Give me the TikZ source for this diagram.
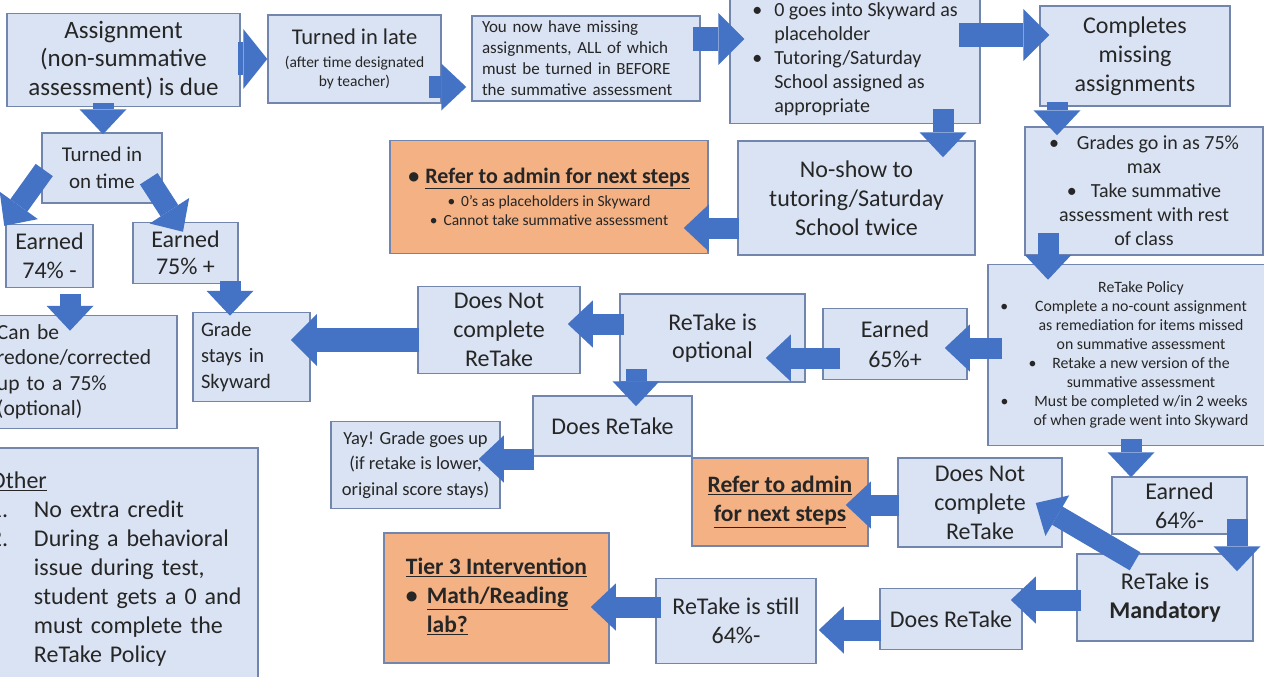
\documentclass[tikz,border=0pt]{standalone}
\usepackage{fontspec}
\setmainfont{Carlito}
\usepackage{xcolor}
\usepackage{tikz}
\usetikzlibrary{calc}
\usetikzlibrary{arrows.meta}
\definecolor{boxfill}{HTML}{DAE3F3}
\definecolor{boxline}{HTML}{7285AD}
\definecolor{adminfill}{HTML}{F4B183}
\definecolor{arrowblue}{HTML}{4472C4}
\definecolor{ink}{HTML}{262626}
\tikzset{ step_box/.style = {rectangle, draw=boxline, fill=boxfill, line width=1.5pt, align=center, text=ink, inner sep=0pt} }
\tikzset{ admin_box/.style = {step_box, fill=adminfill} }
\tikzset{ box_size/.style 2 args = {minimum width=#1pt, minimum height=#2pt} }
\tikzset{ big_text/.style = {font=\fontsize{24}{29}\selectfont} }
\tikzset{ block_arrow/.style = {draw=arrowblue, line width=21pt, -{Triangle[length=25pt, width=47pt, line width=0pt]}} }
\tikzset{ big_arrow/.style = {draw=arrowblue, line width=24pt, -{Triangle[length=26pt, width=52pt, line width=0pt]}} }
\tikzset{ fat_arrow/.style = {draw=arrowblue, line width=33pt, -{Triangle[length=24pt, width=60pt, line width=0pt]}} }

\begin{document}
\begin{tikzpicture}[x=1pt, y=-1pt]
                        \path[use as bounding box, fill=white] (0, 0) rectangle (1264, 677);
                        \node[step_box, box_size={233}{93}, font=\fontsize{25}{28.5}\selectfont] (0) at (123.5, 60) {Assignment\\(non-summative\\assessment) is due};
                        \node[step_box, box_size={173}{88}, font=\fontsize{15.5}{19}\selectfont] (1) at (354.5, 59) {{\fontsize{22.5}{27}\selectfont Turned in late}\\[4pt](after time designated\\by teacher)};
                        \node[step_box, box_size={228}{85}, text width=208pt, inner xsep=10pt, align=left, font=\fontsize{17}{21}\selectfont] (2) at (586, 58.5) {You now have missing\\assignments, ALL of which\\must be turned in BEFORE\\the summative assessment};
                        \node[step_box, box_size={250}{127}, font=\fontsize{20}{24}\selectfont] (3) at (855, 60) {\begin{tabular}{@{}p{22pt}@{}l@{}} • & 0 goes into Skyward as\\ & placeholder\\ • & Tutoring/Saturday\\ & School assigned as\\ & appropriate\end{tabular}};
                        \node[step_box, box_size={190}{100}, big_text] (4) at (1135, 56) {Completes\\missing\\assignments};
                        \node[step_box, box_size={238}{128}, font=\fontsize{20}{24}\selectfont] (5) at (1144, 191) {•\hspace{18pt}Grades go in as 75\%\\max\\•\hspace{14pt}Take summative\\assessment with rest\\of class};
                        \node[step_box, box_size={237}{114}, big_text] (6) at (856.5, 198) {No-show to\\tutoring/Saturday\\School twice};
                        \node[admin_box, box_size={318}{113}, font=\fontsize{15.5}{19.5}\selectfont] (7) at (549, 197) {{\fontsize{22}{26}\selectfont\bfseries •\hspace{6pt}\underline{Refer to admin for next steps}}\\[3pt]•\hspace{6pt}0's as placeholders in Skyward\\•\hspace{6pt}Cannot take summative assessment};
                        \node[step_box, box_size={120}{70}, font=\fontsize{21}{27}\selectfont] (8) at (102, 168) {Turned in\\on time};
                        \node[step_box, box_size={87}{63}, big_text] (9) at (49.5, 256) {Earned\\74\% -};
                        \node[step_box, box_size={105}{61}, font=\fontsize{24}{27}\selectfont] (10) at (185.5, 253) {Earned\\75\% +};
                        \node[step_box, box_size={192}{113}, text width=168pt, inner xsep=12pt, align=left, font=\fontsize{21.5}{25.5}\selectfont] (11) at (81, 372) {Can be\\redone/corrected\\up to a 75\%\\(optional)};
                        \node[step_box, box_size={117}{89}, text width=101pt, inner xsep=8pt, align=left, font=\fontsize{20.5}{26}\selectfont] (12) at (251.5, 357) {Grade\\stays in\\Skyward};
                        \node[step_box, box_size={162}{87}, big_text] (13) at (499, 330) {Does Not\\complete\\ReTake};
                        \node[step_box, box_size={185}{88}, font=\fontsize{24}{28}\selectfont] (14) at (712.5, 338) {ReTake is\\optional};
                        \node[step_box, box_size={144}{71}, font=\fontsize{24}{30}\selectfont] (15) at (895, 344) {Earned\\65\%+};
                        \node[step_box, box_size={306}{181}, font=\fontsize{15.8}{19}\selectfont] (16) at (1141, 355) {ReTake Policy\\\llap{•\hspace{27pt}}Complete a no-count assignment\\as remediation for items missed\\on summative assessment\\\llap{•\hspace{16pt}}Retake a new version of the\\summative assessment\\\llap{•\hspace{26pt}}Must be completed w/in 2 weeks\\of when grade went into Skyward};
                        \node[step_box, box_size={159}{60}, big_text] (17) at (612.5, 426) {Does ReTake};
                        \node[step_box, box_size={169}{87}, font=\fontsize{18.5}{25.5}\selectfont] (18) at (415.5, 465) {Yay! Grade goes up\\(if retake is lower,\\original score stays)};
                        \node[step_box, box_size={278}{244}, text width=258pt, inner xsep=10pt, align=left, big_text] (19) at (119, 570) {\begin{tabular}{@{}p{44pt}@{}l@{}}\multicolumn{2}{@{}l@{}}{\underline{Other}}\\ 1. & No extra credit\\ 2. & During a behavioral\\ & issue during test,\\ & student gets a 0 and\\ & must complete the\\ & ReTake Policy\end{tabular}};
                        \node[admin_box, box_size={176}{88}, font=\fontsize{23.5}{29}\selectfont\bfseries] (20) at (780, 502) {\underline{Refer to admin}\\\underline{for next steps}};
                        \node[step_box, box_size={164}{89}, big_text] (21) at (980, 502.5) {Does Not\\complete\\ReTake};
                        \node[step_box, box_size={135}{57}, big_text] (22) at (1179.5, 505.5) {Earned\\64\%-};
                        \node[step_box, box_size={176}{87}, big_text] (23) at (1165, 597.5) {ReTake is\\\textbf{Mandatory}};
                        \node[step_box, box_size={142}{61}, big_text] (24) at (951, 619) {Does ReTake};
                        \node[step_box, box_size={160}{85}, big_text] (25) at (736, 621) {ReTake is still\\64\%-};
                        \node[admin_box, box_size={225}{130}, font=\fontsize{23.5}{29}\selectfont\bfseries] (26) at (496.5, 598) {\begin{tabular}{@{}p{21pt}@{}l@{}}\multicolumn{2}{@{}l@{}}{\underline{Tier 3 Intervention}}\\ • & \underline{Math/Reading}\\ & \underline{lab?}\end{tabular}};
                        \draw[fat_arrow] ($(0.east)+(-3,-1)$) to ($(1.west)+(0,0)$);
                        \draw[block_arrow] ($(1.east)+(-13,28)$) to ($(2.west)+(-5,28.5)$);
                        \draw[big_arrow] ($(2.east)+(-8,-19.5)$) to ($(3.west)+(15,-21)$);
                        \draw[big_arrow] ($(3.east)+(-22,-25)$) to ($(4.west)+(10,-21)$);
                        \draw[block_arrow] ($(4.south)+(-78,-5)$) to ($(5.north)+(-87,9)$);
                        \draw[block_arrow] ($(3.south)+(88,-15)$) to ($(6.north)+(86.5,17)$);
                        \draw[block_arrow] ($(6.west)+(2,30)$) to ($(7.east)+(-25,31)$);
                        \draw[block_arrow] ($(5.south)+(-96,-23)$) to ($(16.north)+(-93,16)$);
                        \draw[block_arrow] ($(16.west)+(15,-7)$) to ($(15.east)+(-23,4)$);
                        \draw[block_arrow] ($(15.west)+(18,14)$) to ($(14.east)+(-40,20)$);
                        \draw[block_arrow] ($(14.west)+(5,-14)$) to ($(13.east)+(-13,-6)$);
                        \draw[big_arrow] ($(13.west)+(2,10)$) to ($(12.east)+(-20,-17)$);
                        \draw[block_arrow] ($(14.south)+(-76.5,-14)$) to ($(17.north)+(23.5,11)$);
                        \draw[block_arrow] ($(17.west)+(2,33)$) to ($(18.east)+(-22,-6)$);
                        \draw[block_arrow] ($(21.west)+(2,2.5)$) to ($(20.east)+(-23,3)$);
                        \draw[block_arrow] ($(16.south)+(-10,-7)$) to ($(22.north)+(-48.5,1)$);
                        \draw[block_arrow] ($(22.south)+(57.5,-16)$) to ($(23.north)+(72,18)$);
                        \draw[block_arrow] ($(23.north)+(-30,8)$) to ($(21.east)+(-27,0.5)$);
                        \draw[block_arrow] ($(23.west)+(5,2.5)$) to ($(24.east)+(-12,-19)$);
                        \draw[block_arrow] ($(24.west)+(2,11)$) to ($(25.east)+(2,9)$);
                        \draw[block_arrow] ($(25.west)+(6,-14)$) to ($(26.east)+(-19,9)$);
                        \draw[block_arrow] ($(0.south)+(-20.5,-4)$) to ($(8.north)+(1,2)$);
                        \draw[block_arrow] ($(8.west)+(3,2)$) to ($(9.north west)+(-1,2)$);
                        \draw[block_arrow] ($(8.south east)+(-14,-25)$) to ($(10.north)+(-2.5,10)$);
                        \draw[block_arrow] ($(9.south)+(20.5,6)$) to ($(11.north)+(-11,16)$);
                        \draw[block_arrow] ($(10.south)+(44.5,-3)$) to ($(12.north)+(-21.5,4)$);
\end{tikzpicture}
\end{document}
